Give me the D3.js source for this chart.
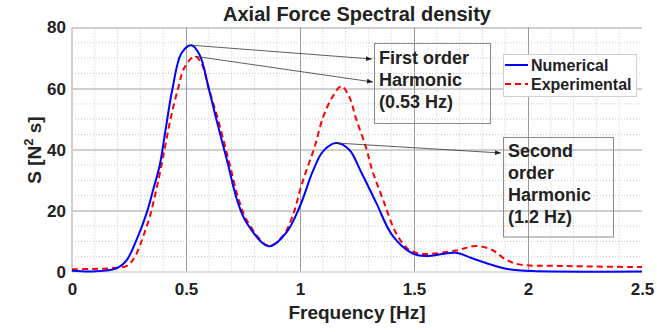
<!DOCTYPE html>
<html>
<head>
<meta charset="utf-8">
<script src="https://cdn.jsdelivr.net/npm/d3@7"></script>
<style>
  body { margin: 0; background: #fff; }
  svg text { font-family: "Liberation Sans", Arial, sans-serif; font-weight: bold; fill: #222; }
</style>
</head>
<body>
<div id="chart"></div>
<script>
// Numerical spectrum
const numFreq = [0, 0.093, 0.195, 0.24, 0.283, 0.327, 0.356, 0.385, 0.407, 0.44, 0.48, 0.524, 0.56, 0.6, 0.633, 0.683,
    0.723, 0.765, 0.862, 0.94, 1.0, 1.056, 1.1, 1.158, 1.216, 1.267, 1.334, 1.405, 1.493, 1.55, 1.683, 1.755,
    1.843, 1.916, 2.02, 2.5];
const numerical = [0.4, 0.2, 1.2, 3.9, 10.5, 19.2, 26.9, 35, 44.9, 59.7, 71.6, 74.2, 71, 60, 50, 35.6,
    23.8, 16.2, 8.4, 12.9, 21.6, 32.9, 39.4, 42.2, 40, 32.9, 22.7, 12, 6.1, 5.2, 6.3, 4.5,
    2.3, 0.9, 0.3, 0.2];

// Experimental spectrum
const expFreq = [0, 0.093, 0.18, 0.24, 0.276, 0.312, 0.341, 0.37, 0.4, 0.432, 0.465, 0.494, 0.538, 0.567, 0.6, 0.64,
    0.69, 0.73, 0.77, 0.862, 0.925, 0.968, 1.005, 1.027, 1.063, 1.1, 1.14, 1.182, 1.215, 1.245, 1.29, 1.318,
    1.363, 1.42, 1.466, 1.493, 1.55, 1.683, 1.77, 1.843, 1.9, 1.96, 2.135, 2.5];
const experimental = [0.9, 1, 1.3, 2, 5, 11.6, 18.1, 27, 37.8, 50, 60, 67, 70.6, 68.4, 60, 50,
    35.7, 24, 16.5, 8.6, 11.8, 18.4, 28, 33, 40.6, 50.4, 57, 60.8, 57.5, 50.4, 40.6, 33,
    23.9, 12.9, 8, 6.7, 5.9, 7, 8.5, 7.2, 4.2, 2.5, 2, 1.6];

const xTicks = [0, 0.5, 1, 1.5, 2, 2.5];
const yTicks = [0, 20, 40, 60, 80];
const legendLabels = ["Numerical", "Experimental"];
const note1 = ["First order", "Harmonic", "(0.53 Hz)"];
const note2 = ["Second", "order", "Harmonic", "(1.2 Hz)"];

const W = 657, H = 332;
const margin = {top: 27.5, right: 15, bottom: 60, left: 72};
const width = W - margin.left - margin.right;
const height = H - margin.top - margin.bottom;

const svg = d3.select("#chart").append("svg")
    .attr("width", W).attr("height", H);

const defs = svg.append("defs");
defs.append("marker")
    .attr("id", "arrow")
    .attr("viewBox", "0 0 10 10")
    .attr("refX", 10).attr("refY", 5)
    .attr("markerWidth", 7).attr("markerHeight", 6)
    .attr("markerUnits", "userSpaceOnUse")
    .attr("orient", "auto")
    .append("path").attr("d", "M0,1 L10,5 L0,9 Z").attr("fill", "#222");

const g = svg.append("g").attr("transform", `translate(${margin.left},${margin.top})`);

const x = d3.scaleLinear().domain([0, 2.5]).range([0, width]);
const y = d3.scaleLinear().domain([0, 80]).range([height, 0]);

// minor grid (dotted)
const minorX = d3.range(0, 2.5001, 0.1).filter(v => Math.abs(v * 2 - Math.round(v * 2)) > 1e-6);
const minorY = d3.range(0, 80.001, 5).filter(v => v % 20 !== 0);
g.append("g").selectAll("line").data(minorX).join("line")
    .attr("x1", d => x(d)).attr("x2", d => x(d)).attr("y1", 0).attr("y2", height)
    .attr("stroke", "#c8c8c8").attr("stroke-dasharray", "1,2");
g.append("g").selectAll("line").data(minorY).join("line")
    .attr("x1", 0).attr("x2", width).attr("y1", d => y(d)).attr("y2", d => y(d))
    .attr("stroke", "#c8c8c8").attr("stroke-dasharray", "1,2");

// major grid
g.append("g").selectAll("line").data(xTicks.slice(1, -1)).join("line")
    .attr("x1", d => Math.round(x(d)) + 0.5).attr("x2", d => Math.round(x(d)) + 0.5)
    .attr("y1", 0).attr("y2", height)
    .attr("stroke", "#999");
g.append("g").selectAll("line").data(yTicks.slice(1)).join("line")
    .attr("x1", 0).attr("x2", width)
    .attr("y1", d => Math.round(y(d)) + 0.5).attr("y2", d => Math.round(y(d)) + 0.5)
    .attr("stroke", "#a0a0a0");

// axis lines
g.append("line").attr("x1", 0).attr("x2", 0).attr("y1", 0).attr("y2", height)
    .attr("stroke", "#cfcfcf").attr("stroke-width", 2);
g.append("line").attr("x1", 0).attr("x2", width).attr("y1", height).attr("y2", height)
    .attr("stroke", "#d8d8d8").attr("stroke-width", 1.5);

// axes (labels only)
const xAxis = g.append("g")
    .attr("transform", `translate(0,${height})`)
    .call(d3.axisBottom(x).tickValues(xTicks).tickSize(0).tickPadding(11)
        .tickFormat(d => d3.format("")(d)));
const yAxis = g.append("g")
    .call(d3.axisLeft(y).tickValues(yTicks).tickSize(0).tickPadding(6));
[xAxis, yAxis].forEach(a => {
    a.select(".domain").remove();
    a.selectAll("text").attr("font-size", 17)
        .attr("font-family", "'Liberation Sans', Arial, sans-serif")
        .attr("font-weight", "bold").attr("fill", "#222");
});

// curves
const line = d3.line().curve(d3.curveCatmullRom.alpha(0.5));
const numPts = numFreq.map((f, i) => [x(f), y(numerical[i])]);
const expPts = expFreq.map((f, i) => [x(f), y(experimental[i])]);

g.append("path").attr("d", line(expPts))
    .attr("fill", "none").attr("stroke", "#ff0000").attr("stroke-width", 2)
    .attr("stroke-dasharray", "6,4");
g.append("path").attr("d", line(numPts))
    .attr("fill", "none").attr("stroke", "#0000ff").attr("stroke-width", 2);

// annotation boxes
function noteBox(x0, y0, w, h, lines, tx, ty, dy) {
    g.append("rect").attr("x", x0 - margin.left).attr("y", y0 - margin.top)
        .attr("width", w).attr("height", h)
        .attr("fill", "none").attr("stroke", "#8a8a8a").attr("stroke-width", 1);
    g.append("g").selectAll("text").data(lines).join("text")
        .attr("x", tx - margin.left).attr("y", (d, i) => ty - margin.top + i * dy)
        .attr("font-size", 18).attr("fill", "#111").text(d => d);
}
noteBox(374.5, 43.5, 116, 80, note1, 379, 63.5, 22);
noteBox(503.5, 137.5, 110, 99.5, note2, 508, 157, 22);

// arrows from peaks
const pk1 = d3.maxIndex(numerical);
const pk2 = d3.maxIndex(experimental);
const secondMax = d3.max(numerical.filter((v, j) => numFreq[j] > 1));
const pk3 = numFreq.findIndex((f, i) => f > 1 && numerical[i] === secondMax);
const arrows = [
    [x(numFreq[pk1]), y(numerical[pk1]), 372 - margin.left, 59 - margin.top],
    [x(expFreq[pk2]), y(experimental[pk2]), 373 - margin.left, 82 - margin.top],
    [x(numFreq[pk3]), y(numerical[pk3]), 501 - margin.left, 153 - margin.top]
];
g.append("g").selectAll("line").data(arrows).join("line")
    .attr("x1", d => d[0]).attr("y1", d => d[1]).attr("x2", d => d[2]).attr("y2", d => d[3])
    .attr("stroke", "#333").attr("stroke-width", 0.8)
    .attr("marker-end", "url(#arrow)");

// legend
const lg = g.append("g").attr("transform", `translate(${503 - margin.left},${54 - margin.top})`);
lg.append("rect").attr("x", 0.5).attr("y", 0.5).attr("width", 133).attr("height", 42)
    .attr("fill", "#fff").attr("stroke", "#d0d0d0");
const legendStyles = [
    {color: "#0000ff", dash: null},
    {color: "#ff0000", dash: "6,4"}
];
legendLabels.forEach((lab, i) => {
    const yy = 11 + i * 19;
    lg.append("line").attr("x1", 2).attr("x2", 25).attr("y1", yy).attr("y2", yy)
        .attr("stroke", legendStyles[i].color).attr("stroke-width", 2)
        .attr("stroke-dasharray", legendStyles[i].dash);
    lg.append("text").attr("x", 28).attr("y", yy + 6).attr("font-size", 16).attr("fill", "#111").text(lab);
});

// title and axis labels
svg.append("text").attr("x", margin.left + width / 2).attr("y", 21)
    .attr("text-anchor", "middle").attr("font-size", 20).attr("fill", "#111")
    .text("Axial Force Spectral density");
svg.append("text").attr("x", margin.left + width / 2).attr("y", 319)
    .attr("text-anchor", "middle").attr("font-size", 19).attr("fill", "#333")
    .text("Frequency [Hz]");
const yl = svg.append("text")
    .attr("transform", "translate(41,150) rotate(-90)")
    .attr("text-anchor", "middle").attr("font-size", 19).attr("fill", "#333");
yl.append("tspan").text("S [N");
yl.append("tspan").attr("font-size", 13).attr("dy", -8).text("2");
yl.append("tspan").attr("dy", 8).text(" s]");
</script>
</body>
</html>
